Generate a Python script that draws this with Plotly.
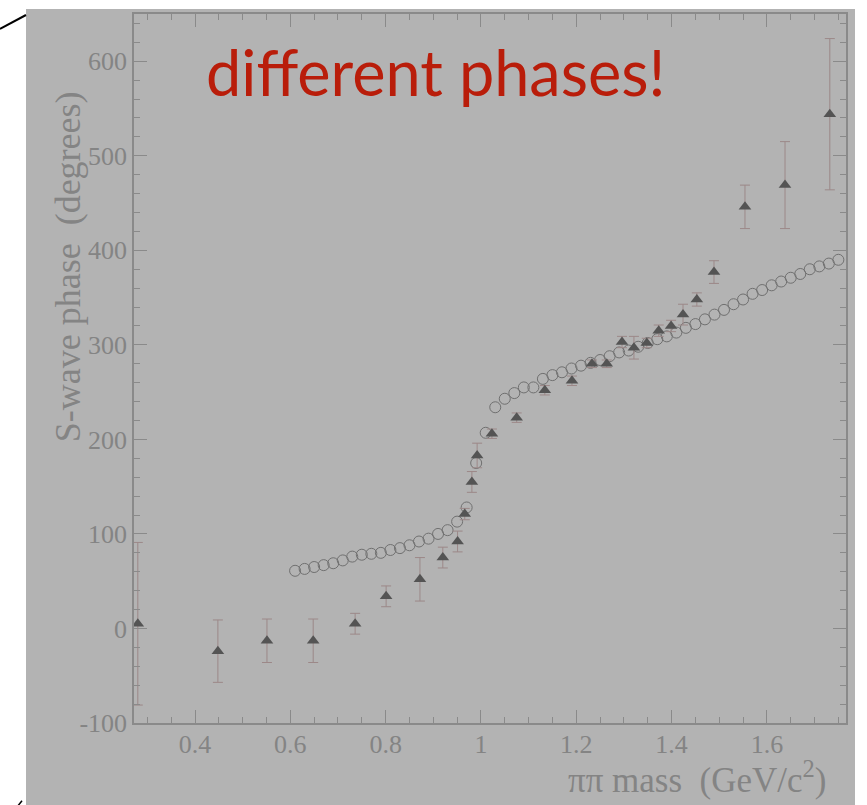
import plotly.graph_objects as go

# ---- data ----
tri_mass = [0.280, 0.448, 0.551, 0.648, 0.736, 0.801, 0.872, 0.920, 0.951, 0.966,
            0.981, 0.992, 1.023, 1.075, 1.134, 1.191, 1.233, 1.264, 1.296, 1.321,
            1.348, 1.373, 1.399, 1.424, 1.453, 1.489, 1.554, 1.638, 1.732]
tri_phase = [5, -24, -13, -13, 5, 34, 52, 75, 92, 121,
             155, 183, 206, 223, 252, 262, 280, 280, 303, 297,
             302, 315, 320, 332, 348, 377, 446, 469, 544]
tri_err = [86, 33, 23, 23, 11, 11, 23, 11, 11, 6,
           11, 13, 5, 5, 5, 5, 4, 4, 6, 12,
           5, 6, 6, 11, 7, 12, 23, 46, 80]

circ_mass = [0.61, 0.63, 0.65, 0.67, 0.69, 0.71, 0.73, 0.75, 0.77, 0.79,
             0.81, 0.83, 0.85, 0.87, 0.89, 0.91, 0.93, 0.95, 0.97, 0.99,
             1.01, 1.03, 1.05, 1.07, 1.09, 1.11, 1.13, 1.15, 1.17, 1.19,
             1.21, 1.23, 1.25, 1.27, 1.29, 1.31, 1.33, 1.35, 1.37, 1.39,
             1.41, 1.43, 1.45, 1.47, 1.49, 1.51, 1.53, 1.55, 1.57, 1.59,
             1.61, 1.63, 1.65, 1.67, 1.69, 1.71, 1.73, 1.75]
circ_phase = [61, 63, 65, 67, 69, 72, 76, 78, 79, 80,
              83, 85, 88, 92, 95, 100, 104, 113, 128, 175,
              207, 234, 243, 249, 255, 255, 264, 268, 271, 275,
              278, 281, 284, 288, 292, 294, 298, 302, 306, 309,
              313, 318, 322, 327, 332, 337, 343, 348, 354, 358,
              363, 367, 371, 375, 380, 383, 386, 390]

x_tickvals = [0.4, 0.6, 0.8, 1.0, 1.2, 1.4, 1.6]
x_ticktext = ["0.4", "0.6", "0.8", "1", "1.2", "1.4", "1.6"]
y_tickvals = [-100, 0, 100, 200, 300, 400, 500, 600]
y_ticktext = ["-100", "0", "100", "200", "300", "400", "500", "600"]

# ---- styling ----
W, H = 867, 805
L, R, T, B = 134, 21, 12, 82
PW, PH = W - L - R, H - T - B
BG = "#b3b3b3"
AX = "#8a8a8a"
TXT = "#848484"
SERIF = "Liberation Serif"


def px(xp):
    return (xp - L) / PW


def py(yp):
    return (H - B - yp) / PH


fig = go.Figure()

fig.add_trace(go.Scatter(
    x=circ_mass, y=circ_phase, mode="markers",
    marker=dict(symbol="circle-open", size=11, color="#707070", line=dict(width=1, color="#707070")),
    showlegend=False, hoverinfo="skip"))

fig.add_trace(go.Scatter(
    x=tri_mass, y=tri_phase, mode="markers",
    error_y=dict(type="data", array=tri_err, visible=True, color="#9c8888", thickness=1, width=5),
    marker=dict(symbol="triangle-up", size=11, color="#545454"),
    showlegend=False, hoverinfo="skip"))

axis_common = dict(
    showline=True, linecolor=AX, linewidth=1.5, mirror="allticks",
    ticks="inside", ticklen=13, tickwidth=1.2, tickcolor=AX,
    showgrid=False, zeroline=False,
    tickfont=dict(family=SERIF, size=26, color=TXT),
)

fig.update_xaxes(
    range=[0.272, 1.766], tickmode="array", tickvals=x_tickvals, ticktext=x_ticktext,
    ticklabelstandoff=-3,
    minor=dict(dtick=0.05, tick0=0, ticks="inside", ticklen=6, tickcolor=AX, tickwidth=1, showgrid=False),
    **axis_common)
fig.update_yaxes(
    range=[-100, 650], tickmode="array", tickvals=y_tickvals, ticktext=y_ticktext,
    minor=dict(dtick=20, tick0=0, ticks="inside", ticklen=6, tickcolor=AX, tickwidth=1, showgrid=False),
    **axis_common)

shapes = [
    dict(type="rect", xref="paper", yref="paper", layer="below",
         x0=px(26), x1=px(855), y0=py(H + 5), y1=py(7),
         fillcolor=BG, line=dict(width=0)),
    dict(type="line", xref="paper", yref="paper",
         x0=px(0), y0=py(27), x1=px(26), y1=py(13),
         line=dict(color="black", width=2)),
    dict(type="line", xref="paper", yref="paper",
         x0=px(18), y0=py(806), x1=px(22), y1=py(801),
         line=dict(color="black", width=1.5)),
]

annotations = [
    dict(text="different phases!", xref="paper", yref="paper",
         x=px(204), y=py(70), xanchor="left", yanchor="middle", showarrow=False,
         font=dict(family="Lato", size=63, color="#b91d0a")),
    dict(text="\u03c0\u03c0 mass\u00a0 (GeV/c<sup>2</sup>)", xref="paper", yref="paper",
         x=px(829), y=py(778), xanchor="right", yanchor="middle", showarrow=False,
         font=dict(family=SERIF, size=35, color=TXT)),
    dict(text="S-wave phase\u00a0 (degrees)", xref="paper", yref="paper", textangle=-90,
         x=px(68), y=py(88), xanchor="center", yanchor="top", showarrow=False,
         font=dict(family=SERIF, size=36, color=TXT)),
]

fig.update_layout(
    width=W, height=H, autosize=False,
    margin=dict(l=L, r=R, t=T, b=B, pad=0),
    paper_bgcolor="white", plot_bgcolor=BG,
    shapes=shapes, annotations=annotations,
)

fig.write_html("out.html")
